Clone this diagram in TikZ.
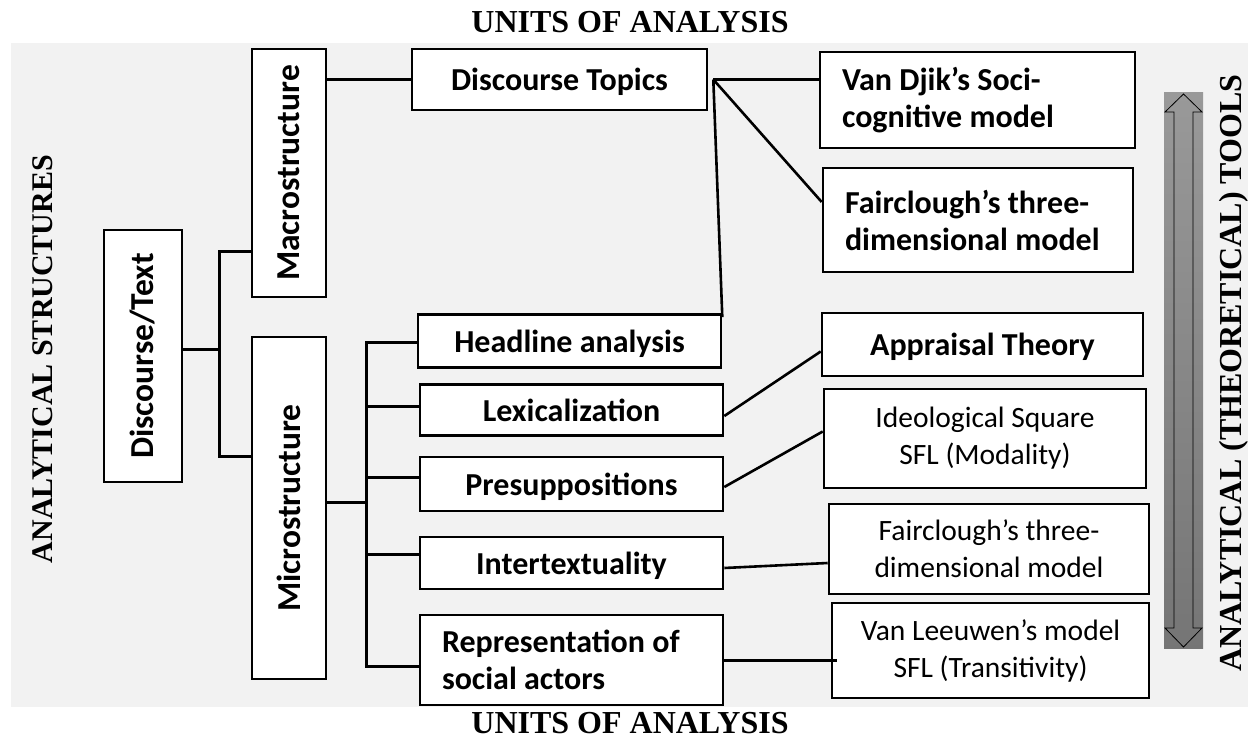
\documentclass[tikz,border=0pt]{standalone}
\usepackage{fontspec}
\setmainfont{Carlito}
\newfontfamily\titlefont{Liberation Serif}

\begin{document}
\begin{tikzpicture}[x=1pt,y=-1pt]
\tikzset{
  box/.style={draw, line width=2.6pt, fill=white, inner sep=0pt, align=flush center,
    font=\bfseries\fontsize{32}{37}\selectfont},
  oneline/.style={text depth=0pt},
  upright/.style={text depth=0pt, font=\bfseries\fontsize{33.5}{37}\selectfont},
  plain/.style={font=\fontsize{29.5}{37}\selectfont},
  conn/.style={line width=3pt},
  diag/.style={line width=2.6pt},
  title/.style={font=\titlefont\bfseries\fontsize{32}{36}\selectfont},
}
\useasboundingbox (0,0) rectangle (1248,738);
\fill[black!5] (11,43) rectangle (1248,707);

% titles
\node[title] (toptitle) at (630,22) {UNITS OF ANALYSIS};
\node[title] (bottitle) at (630,723) {UNITS OF ANALYSIS};
\node[title, font=\titlefont\bfseries\fontsize{30}{36}\selectfont, rotate=90] (lefttitle) at (43,359) {ANALYTICAL STRUCTURES};
\node[title, rotate=90] (righttitle) at (1234,373) {ANALYTICAL (THEORETICAL) TOOLS};

% analytical structures
\node[box, upright, minimum width=78, minimum height=252] (disc) at (143,356) {\rotatebox{90}{Discourse/Text}};
\node[box, upright, minimum width=74, minimum height=248] (macro) at (289,173) {\rotatebox{90}{Macrostructure}};
\node[box, upright, minimum width=74, minimum height=342] (micro) at (289,508) {\rotatebox{90}{Microstructure}};

% units of analysis
\node[box, oneline, minimum width=295, minimum height=61] (topics) at (559.5,79.5) {Discourse Topics};
\node[box, oneline, minimum width=303, minimum height=53] (headline) at (569.5,341) {Headline analysis};
\node[box, oneline, minimum width=303, minimum height=51] (lexis) at (571.5,410) {Lexicalization};
\node[box, oneline, minimum width=303, minimum height=54] (presup) at (571.5,484) {Presuppositions};
\node[box, oneline, minimum width=303, minimum height=52] (intertext) at (571.5,563) {Intertextuality};
\node[box, minimum width=303, minimum height=90, text width=259, align=flush left] (repr) at (571.5,660) {Representation of\\social actors};

% tools
\node[box, minimum width=315, minimum height=96, text width=271, align=flush left] (vandjik) at (977.5,100) {Van Djik’s Soci-\\cognitive model};
\node[box, minimum width=310, minimum height=104, text width=266, align=flush left] (fairbold) at (978,220) {Fairclough’s three-\\dimensional model};
\node[box, oneline, minimum width=321, minimum height=63] (appraisal) at (982.5,344.5) {Appraisal Theory};
\node[box, plain, minimum width=322, minimum height=99] (ideo) at (985,438.5) {Ideological Square\\SFL (Modality)};
\node[box, plain, minimum width=320, minimum height=90] (fairplain) at (989,549) {Fairclough’s three-\\dimensional model};
\node[box, plain, minimum width=317, minimum height=95] (vanl) at (990.5,650.5) {Van Leeuwen’s model\\SFL (Transitivity)};

% structure tree
\coordinate (bus1) at (219,349);
\draw[conn] (disc.east |- bus1) -- (bus1);
\draw[conn] ([yshift=-79pt]macro.west) -| (bus1) |- ([yshift=52pt]micro.west);
\draw[conn] (macro.east |- topics.west) -- (topics.west);

\coordinate (bus2) at (366,502);
\draw[conn] ([yshift=6pt]micro.east) -- (bus2);
\foreach \n/\y in {headline/342, lexis/406, presup/477, intertext/554, repr/666}
  \draw[conn] (bus2) |- (\n.west |- 0,\y);

% links to tools
\coordinate (hub) at ([xshift=5pt]topics.east);
\draw[diag] (hub) -- (vandjik.west |- hub);
\draw[diag] (hub) -- ([yshift=18pt]fairbold.west);
\draw[diag] (hub) -- ([yshift=-4pt]headline.north east);
\draw[diag] ([yshift=-6pt]lexis.east) -- ([yshift=-7pt]appraisal.west);
\draw[diag] ([yshift=-3pt]presup.east) -- ([yshift=7pt]ideo.west);
\draw[diag] ([yshift=-5pt]intertext.east) -- ([yshift=-14pt]fairplain.west);
\draw[conn] (repr.east) -- ([xshift=6pt]vanl.west |- repr.east);

% double arrow
\shade[top color=black!40, bottom color=black!54] (1164,93) rectangle (1203,648);
\draw[line width=0.8pt] (1183.5,94) -- (1202,112) -- (1193,112) -- (1193,628) -- (1202,628)
  -- (1183.5,647) -- (1165,628) -- (1174,628) -- (1174,112) -- (1165,112) -- cycle;
\end{tikzpicture}
\end{document}
